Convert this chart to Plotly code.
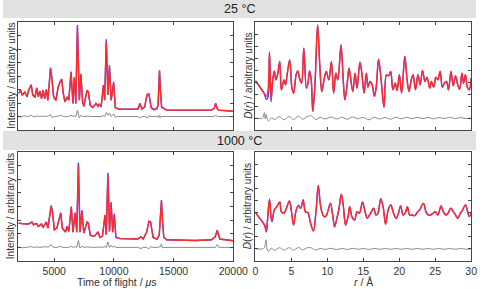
import plotly.graph_objects as go

# ---------------- data: time-of-flight patterns ----------------
tof_25 = [2000, 2188, 2322, 2537, 2725, 2860, 3075, 3209, 3397, 3532, 3666, 3800, 3935, 4069, 4203,
          4338, 4472, 4687, 4794, 4956, 5144, 5332, 5493, 5627, 5762, 5896, 6084, 6219, 6407, 6514,
          6568, 6675, 6810, 6944, 7105, 7240, 7374, 7481, 7643, 7750, 7858, 8019, 8234, 8503, 8664,
          8771, 8932, 9121, 9228, 9362, 9497, 9631, 9766, 9980, 10115, 10384, 11996, 12184, 12345,
          12587, 12700, 12802, 12937, 13030, 13125, 13340, 13609, 13700, 13760, 13823, 13900, 14000,
          14414, 16832, 18176, 18400, 18525, 18650, 18767, 20000]
calc_25 = [1.69, 1.94, 1.57, 1.81, 1.45, 1.94, 2.30, 1.57, 1.45, 2.11, 1.45, 1.89, 1.32, 1.94, 1.32,
           1.99, 1.20, 3.53, 2.87, 1.45, 1.20, 2.18, 2.55, 2.72, 1.69, 1.08, 1.45, 1.20, 3.28, 1.45,
           0.96, 2.87, 0.96, 6.59, 1.20, 3.11, 1.08, 0.76, 1.69, 1.94, 1.81, 0.83, 0.66, 0.96, 0.76,
           0.91, 0.71, 2.30, 1.20, 5.54, 1.60, 3.70, 1.20, 2.48, 0.66, 0.56, 0.54, 0.96, 0.56,
           0.71, 1.30, 1.62, 1.64, 1.00, 0.66, 0.51, 0.59, 0.85, 2.10, 3.36, 1.90, 0.70,
           0.47, 0.44, 0.47, 0.60, 0.96, 0.60, 0.47, 0.39]
obs_25 = [1.72, 1.97, 1.57, 1.83, 1.45, 1.96, 2.36, 1.57, 1.45, 2.14, 1.45, 1.90, 1.32, 1.95, 1.32,
          2.01, 1.20, 3.62, 2.90, 1.45, 1.20, 2.20, 2.58, 2.78, 1.69, 1.08, 1.45, 1.20, 3.33, 1.45,
          0.96, 2.90, 0.96, 6.78, 1.20, 3.16, 1.08, 0.76, 1.70, 1.96, 1.82, 0.83, 0.66, 0.97, 0.76,
          0.91, 0.71, 2.33, 1.20, 5.72, 1.60, 3.80, 1.20, 2.56, 0.66, 0.56, 0.54, 0.97, 0.56,
          0.71, 1.30, 1.65, 1.67, 1.00, 0.66, 0.51, 0.59, 0.85, 2.10, 3.42, 1.90, 0.70,
          0.47, 0.44, 0.47, 0.60, 0.98, 0.60, 0.47, 0.39]
diff_25 = [0.05, -0.05, 0.0, 0.05, 0.0, 0.0, 0.10, 0.0, -0.03, 0.05, 0.0, 0.03, 0.0, 0.03, 0.0,
           0.04, 0.0, 0.15, -0.05, 0.0, 0.0, 0.04, 0.05, 0.08, 0.0, -0.03, 0.0, 0.0, 0.10, 0.0,
           0.0, 0.06, 0.0, 0.45, -0.10, 0.10, 0.0, 0.0, 0.03, 0.05, 0.03, 0.0, 0.0, 0.02, 0.0,
           0.0, 0.0, 0.06, 0.0, 0.30, 0.10, 0.25, 0.0, 0.20, -0.05, 0.0, 0.0, -0.12, 0.0,
           0.0, -0.05, -0.12, 0.05, 0.0, 0.0, 0.0, 0.0, 0.0, -0.10, 0.12, -0.08, 0.0,
           0.0, 0.0, 0.0, 0.0, 0.12, 0.0, 0.0, 0.0]

tof_1000 = [2000, 2322, 2860, 3128, 3263, 3532, 3666, 3935, 4069, 4338, 4472, 4741, 4848, 5009, 5224,
            5412, 5547, 5681, 5950, 6084, 6219, 6434, 6568, 6756, 6890, 7025, 7159, 7320, 7481, 7750,
            7858, 8019, 8368, 8664, 8825, 9040, 9255, 9362, 9497, 9631, 9766, 9900, 10034, 10169,
            10518, 11996, 12265, 12453, 12748, 12937, 13071, 13286, 13609, 13800, 13900, 13985,
            14070, 14180, 14414, 16832, 18176, 18500, 18659, 18800, 18874, 20000]
calc_1000 = [1.78, 1.73, 1.71, 1.85, 1.66, 1.75, 1.54, 1.71, 1.46, 1.85, 1.41, 3.00, 2.63, 1.29, 1.41,
             2.02, 2.51, 1.41, 1.12, 1.54, 1.17, 2.95, 1.12, 2.51, 1.12, 6.04, 1.12, 2.68, 1.05, 1.85,
             1.78, 0.88, 0.81, 1.13, 0.73, 0.81, 2.34, 0.93, 5.31, 1.17, 3.24, 1.12, 2.39, 0.73,
             0.64, 0.61, 0.78, 0.61, 1.12, 1.90, 1.85, 0.73, 0.61, 0.90, 2.20, 3.41,
             2.00, 0.75, 0.56, 0.51, 0.56, 0.80, 1.22, 0.80, 0.61, 0.49]
obs_1000 = [1.79, 1.74, 1.72, 1.87, 1.66, 1.76, 1.54, 1.72, 1.46, 1.87, 1.41, 3.08, 2.66, 1.29, 1.41,
            2.04, 2.55, 1.41, 1.12, 1.55, 1.17, 3.00, 1.12, 2.55, 1.12, 6.22, 1.12, 2.72, 1.05, 1.87,
            1.79, 0.88, 0.81, 1.14, 0.73, 0.81, 2.38, 0.93, 5.48, 1.17, 3.32, 1.12, 2.46, 0.73,
            0.64, 0.61, 0.79, 0.61, 1.12, 1.93, 1.88, 0.73, 0.61, 0.90, 2.23, 3.47,
            2.00, 0.75, 0.56, 0.51, 0.56, 0.80, 1.27, 0.80, 0.61, 0.49]
diff_1000 = [0.03, -0.03, 0.03, 0.05, 0.0, 0.04, 0.0, 0.03, 0.0, 0.05, 0.0, 0.20, 0.05, 0.0, 0.0,
             0.04, 0.08, 0.0, 0.0, 0.02, 0.0, 0.08, 0.0, 0.07, 0.0, 0.50, -0.05, 0.08, 0.0, 0.03,
             0.02, 0.0, 0.0, 0.03, 0.0, 0.0, 0.06, 0.0, 0.40, 0.0, 0.15, 0.0, 0.10, 0.0,
             0.0, 0.0, -0.08, 0.0, 0.0, -0.10, 0.05, 0.0, 0.0, 0.0, 0.05, 0.25,
             -0.05, 0.0, 0.0, 0.0, 0.0, 0.0, 0.20, 0.0, 0.0, 0.0]

# ---------------- data: pair distribution functions ----------------
r_25 = [0.00, 1.20, 1.52, 1.74, 1.96, 2.18, 2.41, 2.63, 2.85, 3.08, 3.39, 3.61, 3.97, 4.19, 4.41,
        4.77, 5.08, 5.31, 5.66, 5.88, 6.20, 6.42, 6.73, 7.09, 7.31, 7.53, 7.76, 7.98, 8.29, 8.65,
        8.96, 9.23, 9.54, 9.85, 10.21, 10.57, 10.88, 11.19, 11.46, 11.90, 12.21, 12.44, 12.75,
        13.02, 13.33, 13.55, 13.86, 14.13, 14.53, 14.80, 15.11, 15.42, 15.65, 15.92, 16.23, 16.54,
        16.81, 17.12, 17.48, 17.88, 18.23, 18.55, 18.81, 19.12, 19.44, 19.70, 20.02, 20.33, 20.77,
        21.09, 21.35, 21.67, 21.93, 22.25, 22.60, 22.91, 23.23, 23.58, 23.85, 24.25, 24.47, 24.79,
        25.10, 25.37, 25.68, 25.99, 26.26, 26.57, 26.84, 27.19, 27.51, 27.82, 28.13, 28.40, 28.71,
        28.93, 29.20, 29.47, 29.73, 30.00]
dcalc_25 = [3.10, 2.07, 1.80, 2.21, 5.53, 1.52, 3.18, 3.87, 3.18, 3.60, 4.70, 2.35, 3.18, 2.77, 3.60,
            4.79, 2.49, 2.07, 3.60, 3.87, 3.18, 2.90, 5.81, 2.49, 2.90, 3.93, 3.18, 0.55, 2.90, 7.75,
            4.29, 2.21, 3.18, 3.87, 3.18, 4.70, 2.07, 3.73, 3.18, 6.09, 3.18, 1.52, 2.77,
            4.15, 2.90, 2.21, 3.73, 2.49, 4.65, 3.73, 2.07, 3.73, 2.57, 3.04, 2.77, 1.80,
            2.63, 4.90, 3.18, 0.91, 3.60, 3.51, 3.87, 2.35, 2.90, 2.30, 3.60, 2.07, 5.12,
            3.18, 2.21, 3.18, 3.60, 2.35, 3.60, 2.77, 3.96, 3.04, 3.40, 2.49, 3.04, 2.57,
            3.40, 3.18, 3.87, 2.57, 2.90, 3.04, 2.35, 3.87, 2.68, 3.51, 2.77, 2.41, 3.73,
            2.90, 3.60, 2.57, 2.35, 3.32]
dobs_25 = [3.10, 2.07, 1.55, 1.70, 5.45, 1.35, 3.18, 3.92, 3.18, 3.60, 4.74, 2.35, 3.18, 2.77, 3.60,
           4.85, 2.49, 2.07, 3.60, 3.93, 3.18, 2.90, 5.81, 2.49, 2.90, 3.93, 3.18, 0.55, 2.90, 7.75,
           4.29, 2.21, 3.18, 3.87, 3.18, 4.70, 2.07, 3.73, 3.18, 6.09, 3.18, 1.52, 2.77,
           4.15, 2.90, 2.21, 3.73, 2.49, 4.65, 3.73, 2.07, 3.73, 2.57, 3.04, 2.77, 1.80,
           2.63, 4.90, 3.18, 0.91, 3.60, 3.51, 3.87, 2.35, 2.90, 2.30, 3.60, 2.07, 5.12,
           3.18, 2.21, 3.18, 3.60, 2.35, 3.60, 2.77, 3.96, 3.04, 3.40, 2.49, 3.04, 2.57,
           3.40, 3.18, 3.87, 2.57, 2.90, 3.04, 2.35, 3.87, 2.68, 3.51, 2.77, 2.41, 3.73,
           2.90, 3.60, 2.57, 2.35, 3.32]

r_1000 = [0.00, 0.62, 1.29, 1.52, 1.65, 1.96, 2.18, 2.32, 2.63, 2.99, 3.39, 3.61, 3.97, 4.32, 4.73,
          4.99, 5.30, 5.62, 5.97, 6.29, 6.64, 6.95, 7.31, 7.62, 8.07, 8.42, 8.74, 9.01, 9.23, 9.54,
          9.85, 10.12, 10.43, 10.74, 11.01, 11.32, 11.59, 11.95, 12.26, 12.53, 12.88, 13.11, 13.42,
          13.78, 14.13, 14.44, 14.89, 15.20, 15.56, 15.87, 16.14, 16.45, 16.76, 17.03, 17.43, 17.79,
          18.10, 18.46, 18.81, 19.21, 19.57, 19.88, 20.19, 20.55, 20.91, 21.13, 21.44, 21.80, 22.16,
          22.56, 22.82, 23.36, 23.72, 24.03, 24.34, 24.70, 25.01, 25.37, 25.81, 26.12, 26.48, 26.79,
          27.15, 27.51, 27.82, 28.13, 28.49, 28.80, 29.20, 29.51, 29.73, 30.00]
dcalc_1000 = [2.99, 2.52, 1.97, 1.55, 2.19, 4.12, 2.66, 2.38, 3.21, 3.49, 3.85, 3.07, 2.94, 3.36, 3.96,
              3.21, 1.97, 3.07, 3.57, 3.35, 4.04, 3.07, 2.99, 2.24, 1.47, 3.07, 5.23, 3.76, 3.07, 2.66,
              2.74, 3.21, 3.76, 2.80, 1.83, 2.52, 3.21, 4.51, 3.35, 1.97, 2.66, 3.49, 2.66,
              2.38, 3.07, 2.94, 3.85, 3.21, 2.52, 2.80, 3.07, 3.35, 2.80, 2.94, 4.12, 3.35,
              2.05, 3.21, 3.63, 2.94, 2.52, 2.94, 3.54, 2.80, 3.07, 3.49, 2.80, 2.80, 2.74,
              3.07, 3.21, 3.76, 3.07, 2.80, 2.80, 2.94, 3.07, 2.80, 3.54, 3.07, 2.80, 2.94,
              3.35, 3.07, 2.80, 2.52, 2.94, 3.21, 3.63, 3.07, 2.66, 2.94]
dobs_1000 = [2.99, 2.52, 1.92, 1.40, 2.12, 4.08, 2.55, 2.25, 3.21, 3.50, 3.88, 3.07, 2.94, 3.38, 3.96,
             3.21, 1.97, 3.07, 3.60, 3.35, 4.04, 3.07, 2.99, 2.24, 1.47, 3.07, 5.23, 3.76, 3.07, 2.66,
             2.74, 3.21, 3.78, 2.80, 1.83, 2.52, 3.21, 4.51, 3.35, 1.97, 2.66, 3.49, 2.66,
             2.38, 3.07, 2.94, 3.85, 3.21, 2.52, 2.80, 3.07, 3.35, 2.80, 2.94, 4.14, 3.35,
             2.05, 3.21, 3.63, 2.94, 2.50, 2.94, 3.54, 2.80, 3.07, 3.49, 2.80, 2.80, 2.74,
             3.07, 3.21, 3.76, 3.04, 2.80, 2.80, 2.94, 3.07, 2.80, 3.54, 3.07, 2.80, 2.94,
             3.35, 3.07, 2.80, 2.52, 2.94, 3.21, 3.63, 3.07, 2.66, 2.94]

r_diff = [0, 1.0, 1.25, 1.35, 1.5, 1.65, 1.85, 2.2, 2.7, 3.3, 4.0, 4.7, 5.3, 6.0, 6.6, 7.2, 7.8, 8.4,
          9.0, 9.7, 10.5, 11.3, 12.0, 12.8, 13.5, 14.3, 15.0, 15.8, 16.5, 17.3, 18.0, 18.8, 19.5,
          20.3, 21.0, 21.8, 22.5, 23.3, 24.0, 24.8, 25.5, 26.3, 27.0, 27.8, 28.5, 29.3, 30.0]
ddiff_25 = [0, 0, 0.45, -0.05, 0.30, -0.10, -0.25, 0.0, -0.12, 0.12, -0.15, 0.12, -0.12, 0.15, -0.10,
            0.12, 0.18, -0.12, 0.05, -0.08, 0.08, -0.08, 0.06, -0.10, 0.08, -0.06, 0.05, -0.15,
            0.05, -0.08, 0.05, -0.10, 0.06, -0.06, 0.05, -0.05, 0.06, -0.05, 0.05, -0.07, 0.05,
            -0.05, 0.06, -0.05, 0.04, -0.05, 0.0]
ddiff_1000 = [0, 0, 0.10, 0.35, 0.75, -0.10, -0.20, 0.05, -0.12, 0.10, -0.10, 0.10, -0.10, 0.12, -0.08,
              0.10, 0.08, -0.10, 0.04, -0.05, 0.05, -0.06, 0.04, -0.05, 0.04, -0.03, 0.03, -0.04,
              0.03, -0.03, 0.03, -0.03, 0.03, -0.03, 0.03, -0.03, 0.03, -0.03, 0.03, -0.03, 0.03,
              -0.03, 0.03, -0.03, 0.03, -0.03, 0.0]

tof_ticks = [5000, 10000, 15000, 20000]
tof_tick_labels = ["5000", "10000", "15000", "20000"]
r_ticks = [0, 5, 10, 15, 20, 25, 30]
headers = ["25 °C", "1000 °C"]

# ---------------- figure ----------------
W, H = 491, 289
FONT = "Liberation Sans, Arial, sans-serif"
RED, BLUE, GREY = "#ff2a2a", "#4646ff", "#8a8a8a"

fig = go.Figure()

panels = [
    ("x", "y", tof_25, calc_25, obs_25, tof_25, diff_25, "linear"),
    ("x2", "y2", r_25, dcalc_25, dobs_25, r_diff, ddiff_25, "spline"),
    ("x3", "y3", tof_1000, calc_1000, obs_1000, tof_1000, diff_1000, "linear"),
    ("x4", "y4", r_1000, dcalc_1000, dobs_1000, r_diff, ddiff_1000, "spline"),
]
for xa, ya, xs, calc, obs, xd, diff, shape in panels:
    fig.add_trace(go.Scatter(x=xd, y=diff, mode="lines", xaxis=xa, yaxis=ya,
                             line=dict(color=GREY, width=1, shape=shape), showlegend=False))
    fig.add_trace(go.Scatter(x=xs, y=obs, mode="lines", xaxis=xa, yaxis=ya,
                             line=dict(color=BLUE, width=1.4, shape=shape), showlegend=False))
    fig.add_trace(go.Scatter(x=xs, y=calc, mode="lines", xaxis=xa, yaxis=ya,
                             line=dict(color=RED, width=1.4, shape=shape), showlegend=False))

def px_x(p):
    return p / W

def px_y(p):
    return 1 - p / H

xl = [px_x(16), px_x(239)]
xr = [px_x(262), px_x(486)]
yt = [px_y(130), px_y(22)]
yb = [px_y(261), px_y(152)]

common = dict(showline=True, linecolor="#454545", linewidth=1, mirror="ticks", ticks="inside",
              ticklen=3, tickcolor="#454545", tickwidth=1, zeroline=False, showgrid=False,
              tickfont=dict(family=FONT, size=10.5, color="#333333"))

fig.update_layout(
    width=W, height=H, margin=dict(l=0, r=0, t=0, b=0),
    paper_bgcolor="white", plot_bgcolor="white",
    xaxis=dict(domain=xl, anchor="y", range=[2000, 20000], tickvals=tof_ticks,
               ticktext=tof_tick_labels, showticklabels=False, **common),
    yaxis=dict(domain=yt, anchor="x", range=[-1, 7], dtick=1, tick0=0, showticklabels=False, **common),
    xaxis2=dict(domain=xr, anchor="y2", range=[0, 30], tickvals=r_ticks,
                showticklabels=False, **common),
    yaxis2=dict(domain=yt, anchor="x2", range=[-1, 8], dtick=1, tick0=0, showticklabels=False, **common),
    xaxis3=dict(domain=xl, anchor="y3", range=[2000, 20000], tickvals=tof_ticks,
                ticktext=tof_tick_labels, showticklabels=True, **common),
    yaxis3=dict(domain=yb, anchor="x3", range=[-1, 7], dtick=1, tick0=0, showticklabels=False, **common),
    xaxis4=dict(domain=xr, anchor="y4", range=[0, 30], tickvals=r_ticks,
                showticklabels=True, **common),
    yaxis4=dict(domain=yb, anchor="x4", range=[-1, 8], dtick=1, tick0=0, showticklabels=False, **common),
)

# header bands
fig.add_shape(type="rect", xref="paper", yref="paper", x0=0, x1=1, y0=px_y(18), y1=1,
              fillcolor="#e2e2e2", line=dict(width=0), layer="below")
fig.add_shape(type="rect", xref="paper", yref="paper", x0=0, x1=1, y0=px_y(150), y1=px_y(131),
              fillcolor="#e2e2e2", line=dict(width=0), layer="below")

ann = []
ann.append(dict(text=headers[0], x=0.5, y=px_y(9), font=dict(size=12.5, color="#222222", family=FONT)))
ann.append(dict(text=headers[1], x=0.5, y=px_y(141), font=dict(size=12.5, color="#222222", family=FONT)))
for yc in (76, 206.5):
    ann.append(dict(text="Intensity / arbitrary units", x=px_x(8), y=px_y(yc), textangle=-90,
                    font=dict(size=10, color="#333333", family=FONT)))
    ann.append(dict(text="<i>D</i>(<i>r</i>) / arbitrary units", x=px_x(254), y=px_y(yc), textangle=-90,
                    font=dict(size=10, color="#333333", family=FONT)))
ann.append(dict(text="Time of flight / <i>μ</i>s", x=px_x(118), y=px_y(282),
                font=dict(size=10.5, color="#333333", family=FONT)))
ann.append(dict(text="<i>r</i> / Å", x=px_x(374), y=px_y(282),
                font=dict(size=10.5, color="#333333", family=FONT)))
for a in ann:
    a.update(xref="paper", yref="paper", showarrow=False, xanchor="center", yanchor="middle")
fig.update_layout(annotations=ann)

fig.write_html("out.html")
